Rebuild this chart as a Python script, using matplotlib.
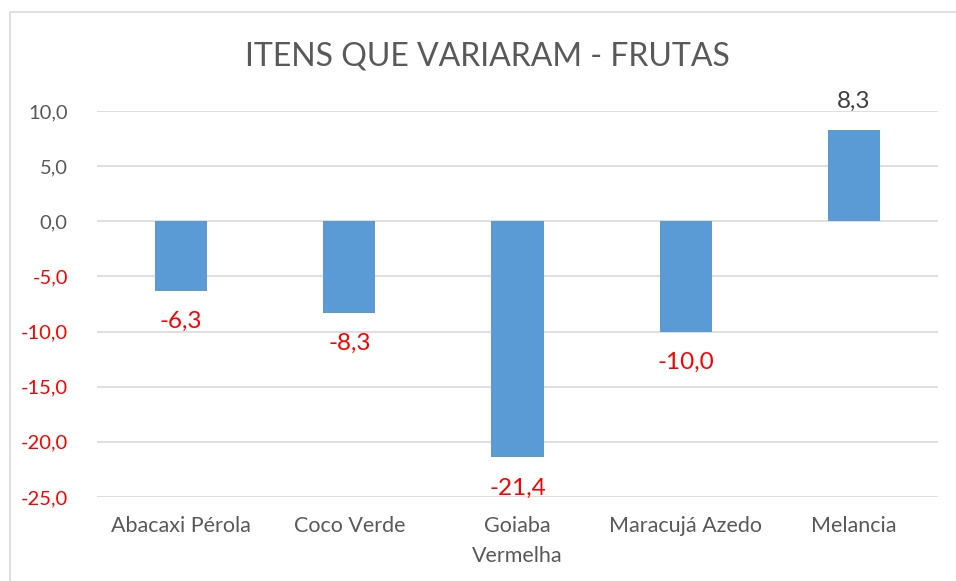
import matplotlib.pyplot as plt
from matplotlib.patches import Rectangle

# Data
categories = ["Abacaxi Pérola", "Coco Verde", "Goiaba\nVermelha", "Maracujá Azedo", "Melancia"]
values = [-6.3, -8.3, -21.4, -10.0, 8.3]
yticks = [10, 5, 0, -5, -10, -15, -20, -25]

plt.rcParams["font.family"] = ["Lato", "DejaVu Sans"]

W, H = 956, 581
fig = plt.figure(figsize=(W / 100, H / 100), dpi=100)

# light chart frame, like the Excel chart area border
fig.patches.append(Rectangle((10 / W, -0.05), 1.1, 1 - 12 / H + 0.05,
                             transform=fig.transFigure, fill=False,
                             edgecolor="#d9d9d9", linewidth=1.2))

ax = fig.add_axes([97 / W, 1 - 497 / H, (938 - 97) / W, (497 - 111) / H])

x = range(len(categories))
ax.bar(x, values, width=0.31, color="#5b9bd5", zorder=3)

ax.set_ylim(-25, 10)
ax.set_xlim(-0.5, len(categories) - 0.5)
ax.set_yticks(yticks)
ax.set_yticklabels([f"{v:.1f}".replace(".", ",") for v in yticks], fontsize=14.5)
for lbl, v in zip(ax.get_yticklabels(), yticks):
    lbl.set_color("red" if v < 0 else "#595959")
ax.set_xticks(list(x))
ax.set_xticklabels(categories, fontsize=15.5, color="#595959", linespacing=1.6)
ax.tick_params(axis="y", length=0, pad=21)
ax.tick_params(axis="x", length=0, pad=14)
ax.grid(axis="y", color="#d9d9d9", linewidth=1.2, zorder=0)
for s in ax.spines.values():
    s.set_visible(False)

for i, v in enumerate(values):
    txt = f"{v:.1f}".replace(".", ",")
    if v < 0:
        ax.annotate(txt, (i, v), xytext=(0, -14.5), textcoords="offset points",
                    ha="center", va="top", color="red", fontsize=17.5)
    else:
        ax.annotate(txt, (i, v), xytext=(0, 13), textcoords="offset points",
                    ha="center", va="bottom", color="#404040", fontsize=17.5)

fig.text(487 / W, 1 - 57 / H, "ITENS QUE VARIARAM - FRUTAS", ha="center", va="center",
         fontsize=23, color="#595959")

fig.savefig("out.png", dpi=100)
